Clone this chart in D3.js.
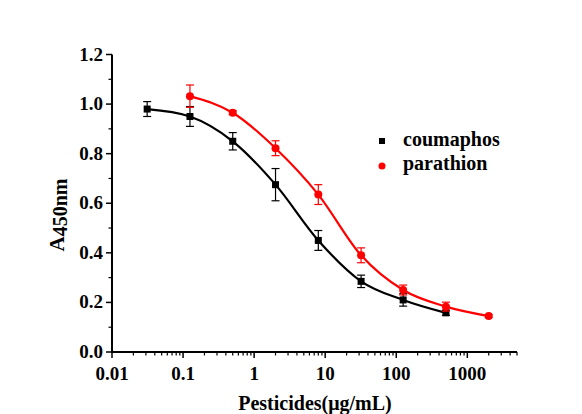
<!DOCTYPE html>
<html><head><meta charset="utf-8">
<script src="https://cdn.jsdelivr.net/npm/d3@7"></script>
<style>body{margin:0;background:#fff}svg{display:block}</style>
</head><body>
<script>
const coumaphosX = [0.03125, 0.125, 0.5, 2, 8, 32, 125, 500];
const coumaphosY = [0.98, 0.95, 0.85, 0.675, 0.45, 0.285, 0.21, 0.158];
const coumaphosErr = [0.03, 0.04, 0.035, 0.065, 0.04, 0.025, 0.025, 0.01];
const parathionX = [0.125, 0.5, 2, 8, 32, 125, 500, 2000];
const parathionY = [1.032, 0.965, 0.822, 0.635, 0.39, 0.25, 0.183, 0.145];
const parathionErr = [0.045, 0.008, 0.03, 0.04, 0.03, 0.02, 0.018, 0.006];
const xTicks = [0.01, 0.1, 1, 10, 100, 1000];
const xTickLabels = ["0.01", "0.1", "1", "10", "100", "1000"];
const yTicks = [0, 0.2, 0.4, 0.6, 0.8, 1.0, 1.2];
const seriesNames = ["coumaphos", "parathion"];
const seriesColors = ["#000000", "#ff0000"];

const W = 582, H = 414;
const svg = d3.select("body").append("svg").attr("width", W).attr("height", H);
const font = "Liberation Serif, Times New Roman, serif";
const x = d3.scaleLog().domain([0.01, 5000]).range([112, 517]);
const y = d3.scaleLinear().domain([0, 1.2]).range([352, 54.5]);

const xMinor = [];
for (let e = -2; e <= 3; e++) for (let m = 2; m <= 9; m++) { const v = m * Math.pow(10, e); if (v <= 5000) xMinor.push(v); }
const yMinor = d3.range(0.1, 1.2, 0.2);

const ax = svg.append("g").attr("stroke", "#000");
ax.append("line").attr("x1", x(0.01)).attr("x2", x(5000)).attr("y1", y(0)).attr("y2", y(0)).attr("stroke-width", 2);
ax.append("line").attr("x1", x(0.01)).attr("x2", x(0.01)).attr("y1", y(0) + 1).attr("y2", y(1.2)).attr("stroke-width", 2);
ax.selectAll(".xmaj").data(xTicks).enter().append("line")
  .attr("x1", d => x(d)).attr("x2", d => x(d)).attr("y1", y(0)).attr("y2", y(0) + 6).attr("stroke-width", 1.5);
ax.selectAll(".xmin").data(xMinor).enter().append("line")
  .attr("x1", d => x(d)).attr("x2", d => x(d)).attr("y1", y(0)).attr("y2", y(0) + 3.5).attr("stroke-width", 1.2);
ax.selectAll(".ymaj").data(yTicks).enter().append("line")
  .attr("x1", x(0.01) - 6).attr("x2", x(0.01)).attr("y1", d => y(d)).attr("y2", d => y(d)).attr("stroke-width", 1.5);
ax.selectAll(".ymin").data(yMinor).enter().append("line")
  .attr("x1", x(0.01) - 3.5).attr("x2", x(0.01)).attr("y1", d => y(d)).attr("y2", d => y(d)).attr("stroke-width", 1.2);

svg.selectAll(".xl").data(xTicks).enter().append("text")
  .attr("x", d => x(d)).attr("y", 380).attr("text-anchor", "middle")
  .style("font-family", font).style("font-weight", "bold").style("font-size", "19px")
  .text((d, i) => xTickLabels[i]);
svg.selectAll(".yl").data(yTicks).enter().append("text")
  .attr("x", 103).attr("y", d => y(d) + 6).attr("text-anchor", "end")
  .style("font-family", font).style("font-weight", "bold").style("font-size", "19px")
  .text(d => d.toFixed(1));

svg.append("text").attr("x", 315).attr("y", 410).attr("text-anchor", "middle")
  .style("font-family", font).style("font-weight", "bold").style("font-size", "20px")
  .text("Pesticides(μg/mL)");
const yt = svg.append("text").attr("transform", "translate(64,215) rotate(-90)").attr("text-anchor", "middle")
  .style("font-family", font).style("font-weight", "bold").style("font-size", "21px");
yt.append("tspan").text("A");
yt.append("tspan").style("font-size", "20px").attr("dy", 3).text("450nm");

const series = [
  {xs: coumaphosX, ys: coumaphosY, es: coumaphosErr, c: seriesColors[0], sq: true},
  {xs: parathionX, ys: parathionY, es: parathionErr, c: seriesColors[1], sq: false}
];
const line = d3.line().x(d => x(d[0])).y(d => y(d[1])).curve(d3.curveMonotoneX);
series.forEach(s => {
  const pts = s.xs.map((v, i) => [v, s.ys[i], s.es[i]]);
  svg.append("path").datum(pts).attr("d", line).attr("fill", "none").attr("stroke", s.c).attr("stroke-width", 2.2);
  const g = svg.append("g").attr("stroke", s.c).attr("stroke-width", 1.2);
  pts.forEach(p => {
    const cx = x(p[0]), t = y(p[1] + p[2]), b = y(p[1] - p[2]);
    g.append("line").attr("x1", cx).attr("x2", cx).attr("y1", t).attr("y2", b);
    g.append("line").attr("x1", cx - 4).attr("x2", cx + 4).attr("y1", t).attr("y2", t);
    g.append("line").attr("x1", cx - 4).attr("x2", cx + 4).attr("y1", b).attr("y2", b);
  });
  pts.forEach(p => {
    if (s.sq) svg.append("rect").attr("x", x(p[0]) - 3.5).attr("y", y(p[1]) - 3.5).attr("width", 7).attr("height", 7).attr("fill", s.c);
    else svg.append("circle").attr("cx", x(p[0])).attr("cy", y(p[1])).attr("r", 4).attr("fill", s.c);
  });
});

const lg = svg.append("g");
lg.append("rect").attr("x", 379).attr("y", 138).attr("width", 6).attr("height", 6).attr("fill", seriesColors[0]);
lg.append("circle").attr("cx", 382).attr("cy", 166).attr("r", 3.5).attr("fill", seriesColors[1]);
seriesNames.forEach((n, i) => {
  lg.append("text").attr("x", 403).attr("y", 146 + i * 24).style("font-family", font)
    .style("font-weight", "bold").style("font-size", "20px").text(n);
});
</script>
</body></html>
